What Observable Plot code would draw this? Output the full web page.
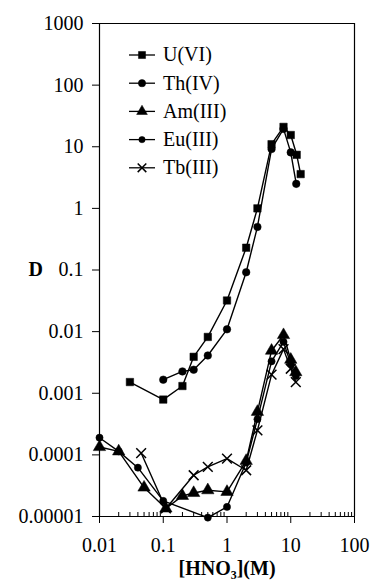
<!DOCTYPE html>
<html><head><meta charset="utf-8">
<script src="https://cdn.jsdelivr.net/npm/d3@7"></script>
<script src="https://cdn.jsdelivr.net/npm/@observablehq/plot@0.6"></script>
<style>
body{margin:0;background:#fff;}
#wrap{width:371px;height:586px;}
</style></head><body><div id="wrap"></div>
<script>
// ---- data ----
const seriesNames = ["U(VI)", "Th(IV)", "Am(III)", "Eu(III)", "Tb(III)"];

const uX  = [0.03, 0.1, 0.2, 0.3, 0.5, 1, 2, 3, 5, 7.7, 10, 12.4, 14.3];
const uY  = [0.00152, 0.00079, 0.00131, 0.0039, 0.0082, 0.032, 0.23, 1.0, 11, 21, 15.5, 7.4, 3.6];

const thX = [0.1, 0.2, 0.3, 0.5, 1, 2, 3, 5, 7.7, 10, 12.2];
const thY = [0.00166, 0.00226, 0.00241, 0.0041, 0.0109, 0.092, 0.5, 9.2, 19.5, 8.1, 2.5];

const amX = [0.01, 0.02, 0.05, 0.11, 0.2, 0.3, 0.5, 1, 2, 3, 5, 7.7, 10, 12];
const amY = [0.000134, 0.000114, 0.0000295, 0.0000135, 0.0000216, 0.0000241, 0.0000267, 0.0000251, 0.00008, 0.0005, 0.0049, 0.0088, 0.0035, 0.0022];

const euX = [0.01, 0.02, 0.04, 0.1, 0.5, 1, 2, 3, 5, 7.7, 10, 12];
const euY = [0.00019, 0.000114, 0.000062, 0.0000179, 0.0000096, 0.0000143, 0.000075, 0.00038, 0.0033, 0.0068, 0.003, 0.0019];

const tbX = [0.045, 0.11, 0.3, 0.5, 1, 2, 3, 5, 7.7, 10, 12];
const tbY = [0.000107, 0.0000135, 0.0000467, 0.0000637, 0.0000871, 0.0000563, 0.00025, 0.002, 0.0052, 0.0025, 0.00152];

const xTicks = [0.01, 0.1, 1, 10, 100];
const xTickLabels = ["0.01", "0.1", "1", "10", "100"];
const yTicks = [0.00001, 0.0001, 0.001, 0.01, 0.1, 1, 10, 100, 1000];
const yTickLabels = ["0.00001", "0.0001", "0.001", "0.01", "0.1", "1", "10", "100", "1000"];
const xMinorTicks = [0.02,0.03,0.04,0.05,0.06,0.07,0.08,0.09, 0.2,0.3,0.4,0.5,0.6,0.7,0.8,0.9, 2,3,4,5,6,7,8,9, 20,30,40,50,60,70,80,90];
const xLabel = "[HNO₃](M)";
const yLabel = "D";

// ---- build table ----
const xs = [uX, thX, amX, euX, tbX];
const ys = [uY, thY, amY, euY, tbY];
const rows = [];
seriesNames.forEach((s, k) => xs[k].forEach((x, i) => rows.push({series: s, x, y: ys[k][i]})));

const symbols = {"U(VI)": "square", "Th(IV)": "circle", "Am(III)": "triangle", "Eu(III)": "circle", "Tb(III)": "times"};
const sizes = {"U(VI)": 4.2, "Th(IV)": 3.8, "Am(III)": 4.6, "Eu(III)": 3.6, "Tb(III)": 4.5};

const font = '"Liberation Serif", "Times New Roman", serif';

const dotMarks = seriesNames.map(s => {
  const sym = symbols[s];
  const hollow = sym === "times";
  return Plot.dot(rows.filter(d => d.series === s), {
    x: "x", y: "y", symbol: () => sym, r: sizes[s],
    fill: hollow ? "none" : "#000", stroke: "#000", strokeWidth: hollow ? 1.5 : 0.5
  });
});

const chart = Plot.plot({
  width: 371, height: 586,
  marginTop: 23, marginRight: 17, marginBottom: 70, marginLeft: 99,
  style: {fontFamily: font, fontSize: "20px", color: "#000", background: "#fff", overflow: "visible"},
  x: {type: "log", domain: [0.01, 100]},
  y: {type: "log", domain: [0.00001, 1000]},
  symbol: {type: "identity"},
  marks: [
    Plot.ruleY([1000], {stroke: "#000", strokeWidth: 1.2}),
    Plot.ruleX([100], {stroke: "#000", strokeWidth: 1.2}),
    Plot.ruleX([0.01], {stroke: "#000", strokeWidth: 1.2}),
    Plot.ruleY([0.00001], {stroke: "#000", strokeWidth: 1.2}),
    Plot.axisY({ticks: yTicks, tickFormat: d => yTickLabels[yTicks.indexOf(d)], tickSize: 7, tickPadding: 9, label: null, fontSize: 20}),
    Plot.axisX({ticks: xTicks, tickFormat: d => xTickLabels[xTicks.indexOf(d)], tickSize: 7, tickPadding: 14, label: null, fontSize: 20}),
    Plot.axisX({ticks: xMinorTicks, tickFormat: () => "", tickSize: 4, dy: -4, label: null}),
    Plot.line(rows, {x: "x", y: "y", z: "series", stroke: "#000", strokeWidth: 1.4}),
    ...dotMarks,
    Plot.text([xLabel], {frameAnchor: "bottom", dy: 58, fontWeight: "bold", fontSize: 20, fontFamily: font}),
    Plot.text([yLabel], {frameAnchor: "left", dx: -71, fontWeight: "bold", fontSize: 20, fontFamily: font})
  ]
});

// ---- legend inside the plot area ----
const svg = d3.select(chart);
const lg = svg.append("g").attr("font-family", font).attr("font-size", 20).attr("text-anchor", "start");
const symGen = {
  square: d3.symbol(d3.symbolSquare, 50),
  circle: d3.symbol(d3.symbolCircle, 42),
  triangle: d3.symbol(d3.symbolTriangle, 50),
  circleSmall: d3.symbol(d3.symbolCircle, 32),
  times: d3.symbol(d3.symbolTimes, 50)
};
seriesNames.forEach((s, i) => {
  const g = lg.append("g").attr("transform", `translate(129,${55 + i * 28.2})`);
  g.append("line").attr("x1", 0).attr("x2", 26).attr("stroke", "#000").attr("stroke-width", 1.3);
  const key = s === "Eu(III)" ? "circleSmall" : symbols[s];
  const hollow = symbols[s] === "times";
  g.append("path").attr("transform", "translate(13,0)").attr("d", symGen[key]())
    .attr("fill", hollow ? "none" : "#000").attr("stroke", "#000").attr("stroke-width", hollow ? 1.5 : 0.5);
  g.append("text").attr("x", 34).attr("dy", "0.32em").attr("text-anchor", "start").text(s);
});

document.getElementById("wrap").appendChild(chart);
</script>
</body></html>
